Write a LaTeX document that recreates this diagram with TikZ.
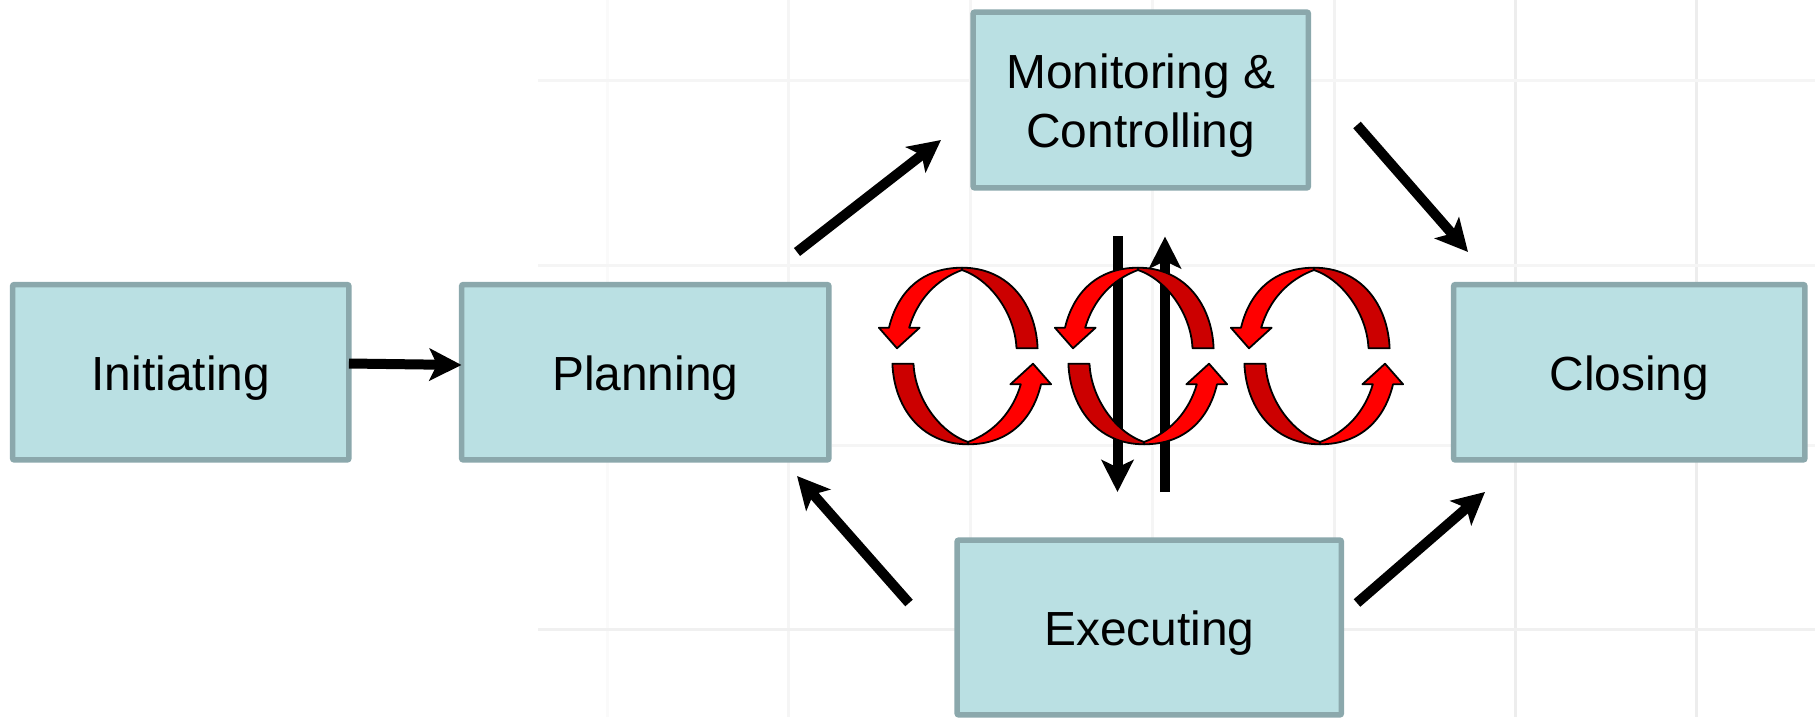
\documentclass[tikz,border=0pt]{standalone}
\usepackage{fontspec}
\setmainfont{Liberation Sans}
\usetikzlibrary{arrows.meta}
\definecolor{stagefill}{HTML}{BAE0E3}
\definecolor{stageline}{HTML}{8BA8AC}
\definecolor{loopred}{HTML}{FF0000}
\definecolor{loopdark}{HTML}{CC0000}
\tikzset{
  stagebox/.style={draw=stageline, fill=stagefill, line width=0.11cm, rounded corners=0.04cm,
    inner sep=0pt, outer sep=0pt, align=center, font=\fontsize{27.25}{33.5}\selectfont,
    text height=27pt, text depth=6pt},
  flowarrow/.style={line width=0.2cm, -{Stealth[length=0.64cm,width=0.64cm,inset=0.15cm]}},
  gridline/.style={line width=0.06cm, draw=black!6},
  loopfront/.style={draw=black, line width=0.036cm, fill=loopred, line join=round},
  loopback/.style={draw=black, line width=0.036cm, fill=loopdark, line join=round}
}
\begin{document}
\begin{tikzpicture}[x=0.02cm, y=-0.02cm]

  \useasboundingbox (0,0) rectangle (1815,717);

  % faint grid behind everything
  \foreach \gx/\gtone in {607/2,788/4,970/4,1152/4,1334/5,1515/7,1696/7}
    \draw[gridline, draw=black!\gtone] (\gx,0) -- (\gx,717);
  \foreach \gy/\gstart/\gtone in {80/538/4,265/538/4,445/832/4,629/538/6}
    \draw[gridline, draw=black!\gtone] (\gstart,\gy) -- (1815,\gy);

  % stages
  \node[stagebox, minimum width=6.73cm, minimum height=3.51cm] (initiating) at (180.75,372.25) {Initiating};
  \node[stagebox, minimum width=7.35cm, minimum height=3.51cm] (planning) at (645.25,372.25) {Planning};
  \node[stagebox, minimum width=7.03cm, minimum height=3.51cm] (closing) at (1629.25,372.25) {Closing};
  \node[stagebox, minimum width=6.71cm, minimum height=3.52cm, text height=60pt] (monitoring) at (1140.75,100) {Monitoring \&\\Controlling};
  \node[stagebox, minimum width=7.69cm, minimum height=3.5cm] (executing) at (1149.25,627.5) {Executing};

  % free ends of the arrows
  \coordinate (planToMonA) at (797,252);
  \coordinate (planToMonB) at (941,140);
  \coordinate (monToCloseA) at (1357,125);
  \coordinate (monToCloseB) at (1468,252);
  \coordinate (execToPlanA) at (909,603);
  \coordinate (execToPlanB) at (797,476);
  \coordinate (execToCloseA) at (1357,603);
  \coordinate (execToCloseB) at (1485,492);
  \coordinate (downA) at (1117.5,236);
  \coordinate (downB) at (1117.5,492);
  \coordinate (upA) at (1165,492);
  \coordinate (upB) at (1165,236.5);

  \draw[flowarrow] (initiating.east |- 0,363.5) -- (planning.west |- 0,365);
  \draw[flowarrow] (planToMonA) -- (planToMonB);
  \draw[flowarrow] (monToCloseA) -- (monToCloseB);
  \draw[flowarrow] (execToPlanA) -- (execToPlanB);
  \draw[flowarrow] (execToCloseA) -- (execToCloseB);
  \draw[flowarrow] (downA) -- (downB);
  \draw[flowarrow] (upA) -- (upB);

  % the three red loops
  \foreach \cx in {965,1141,1317} {
    \foreach \turn in {0,180} {
      \begin{scope}[shift={(\cx,356)}, rotate=\turn]
        \filldraw[loopback] (51.5,-7.7) .. controls (50,-42) and (26,-76) .. (-3,-86)
          -- (-3,-88.3) .. controls (45,-88.3) and (71,-50) .. (72.6,-7.7) -- cycle;
        \filldraw[loopfront] (-3,-86) -- (-3,-88.3) .. controls (-45,-88.3) and (-68,-62) .. (-76,-28.3)
          -- (-86.1,-28.3) -- (-68,-7.7) -- (-45.4,-28.3) -- (-55.8,-28.3)
          .. controls (-48,-55) and (-30,-76) .. (-3,-86) -- cycle;
      \end{scope}
    }
  }

\end{tikzpicture}
\end{document}
